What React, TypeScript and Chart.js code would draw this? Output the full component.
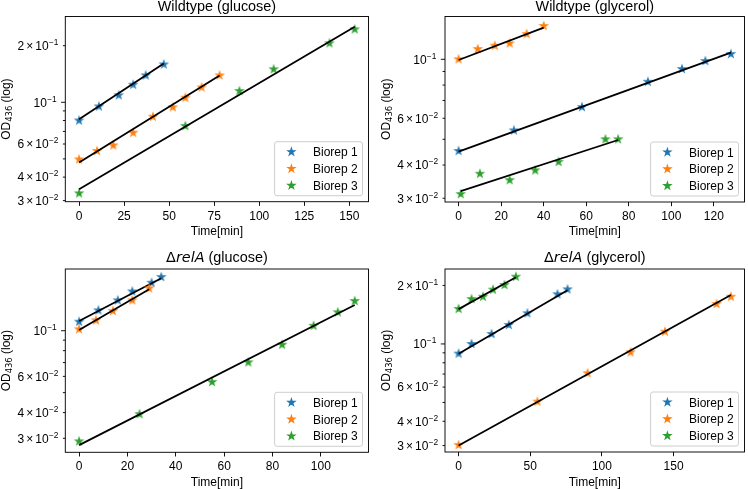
import React, { useEffect, useRef } from 'react';
import { Chart, registerables } from 'chart.js';
Chart.register(...registerables);

const SANS = "'Liberation Sans', Arial, sans-serif";
const MATH = "'DejaVu Sans', sans-serif";
const COLORS = ['#1f77b4', '#ff7f0e', '#2ca02c'];
const SERIES_LABELS = ['Biorep 1', 'Biorep 2', 'Biorep 3'];
const X_TITLE = 'Time[min]';
const Y_TITLE = ['OD', '436', ' (log)'];

// shared log-axis ticks and labels
const Y_TICKS = [0.03, 0.04, 0.05, 0.06, 0.07, 0.08, 0.09, 0.1, 0.2, 0.3];
const Y_TICK_LABELS = ['3×10^-2', '4×10^-2', '', '6×10^-2', '', '', '', '10^-1', '2×10^-1', '3×10^-1'];

// ---- Wildtype (glucose)
const wgTitle = 'Wildtype (glucose)';
const wgXTicks = [0, 25, 50, 75, 100, 125, 150];
const wgT1 = [0, 11, 22, 30, 37, 47];
const wgOD1 = [0.08, 0.095, 0.109, 0.124, 0.139, 0.159];
const wgT2 = [0, 10, 19, 30, 41, 52, 59, 68, 78];
const wgOD2 = [0.0497, 0.0551, 0.059, 0.0689, 0.0838, 0.0941, 0.1058, 0.12, 0.139];
const wgT3 = [0, 59, 89, 108, 139, 153];
const wgOD3 = [0.0328, 0.0748, 0.1148, 0.1498, 0.206, 0.2444];
const wgFitT1 = [0, 47];
const wgFitOD1 = [0.0812, 0.161];
const wgFitT2 = [0, 78];
const wgFitOD2 = [0.0478, 0.139];
const wgFitT3 = [0, 153];
const wgFitOD3 = [0.0345, 0.252];

// ---- Wildtype (glycerol)
const wyTitle = 'Wildtype (glycerol)';
const wyXTicks = [0, 20, 40, 60, 80, 100, 120];
const wyT1 = [0, 26, 58, 89, 105, 116, 128];
const wyOD1 = [0.0452, 0.054, 0.0661, 0.0823, 0.0919, 0.0985, 0.1047];
const wyT2 = [0, 9, 17, 24, 32, 40];
const wyOD2 = [0.1, 0.1093, 0.1125, 0.1148, 0.1245, 0.1335];
const wyT3 = [1, 10, 24, 36, 47, 69, 75];
const wyOD3 = [0.0311, 0.0371, 0.0351, 0.0382, 0.0411, 0.05, 0.05];
const wyFitT1 = [0, 128];
const wyFitOD1 = [0.0449, 0.1059];
const wyFitT2 = [0, 40];
const wyFitOD2 = [0.0994, 0.1315];
const wyFitT3 = [1, 75];
const wyFitOD3 = [0.0319, 0.0497];

// ---- ΔrelA (glucose)
const rgTitle = 'ΔrelA (glucose)';
const rgXTicks = [0, 20, 40, 60, 80, 100];
const rgT1 = [0, 8, 16, 22, 30, 34];
const rgOD1 = [0.1106, 0.1256, 0.1405, 0.1553, 0.171, 0.1824];
const rgT2 = [0, 7, 14, 22, 29];
const rgOD2 = [0.1016, 0.1123, 0.1246, 0.1405, 0.1607];
const rgT3 = [0, 25, 55, 70, 84, 97, 107, 114];
const rgOD3 = [0.029, 0.0393, 0.0563, 0.0702, 0.0855, 0.1057, 0.1229, 0.1394];
const rgFitT1 = [0, 34];
const rgFitOD1 = [0.1114, 0.1798];
const rgFitT2 = [0, 29];
const rgFitOD2 = [0.1008, 0.1589];
const rgFitT3 = [0, 114];
const rgFitOD3 = [0.0278, 0.1333];

// ---- ΔrelA (glycerol)
const ryTitle = 'ΔrelA (glycerol)';
const ryXTicks = [0, 50, 100, 150];
const ryT1 = [0, 9, 23, 35, 48, 69, 76];
const ryOD1 = [0.0892, 0.1, 0.1125, 0.1252, 0.1438, 0.1801, 0.191];
const ryT2 = [0, 55, 90, 120, 144, 180, 190];
const ryOD2 = [0.0302, 0.0505, 0.0707, 0.0906, 0.1157, 0.1606, 0.175];
const ryT3 = [0, 9, 17, 24, 32, 40];
const ryOD3 = [0.1514, 0.1703, 0.175, 0.1902, 0.201, 0.2218];
const ryFitT1 = [0, 76];
const ryFitOD1 = [0.089, 0.1888];
const ryFitT2 = [0, 190];
const ryFitOD2 = [0.03, 0.1786];
const ryFitT3 = [0, 40];
const ryFitOD3 = [0.151, 0.2203];

type Series = { t: number[]; od: number[]; fitT: number[]; fitOD: number[] };
type PanelDef = {
  box: { left: number; top: number; width: number; height: number };
  pad: { left: number; top: number; right: number };
  xAxisH: number;
  xTitlePad: number;
  titleGap: number;
  title: string;
  xMin: number; xMax: number; yMin: number; yMax: number;
  xTicks: number[];
  series: Series[];
};

const PANELS: PanelDef[] = [
  {
    box: { left: 0, top: 0, width: 374, height: 245 },
    pad: { left: 65.3, top: 16.5, right: 5.5 }, xAxisH: 43.3, xTitlePad: 7, titleGap: 5.6,
    title: wgTitle, xMin: -7.65, xMax: 160.65, yMin: 0.0296, yMax: 0.286, xTicks: wgXTicks,
    series: [
      { t: wgT1, od: wgOD1, fitT: wgFitT1, fitOD: wgFitOD1 },
      { t: wgT2, od: wgOD2, fitT: wgFitT2, fitOD: wgFitOD2 },
      { t: wgT3, od: wgOD3, fitT: wgFitT3, fitOD: wgFitOD3 },
    ],
  },
  {
    box: { left: 374, top: 0, width: 374, height: 245 },
    pad: { left: 71, top: 16.5, right: 3.5 }, xAxisH: 43, xTitlePad: 7, titleGap: 5.6,
    title: wyTitle, xMin: -6.4, xMax: 134.4, yMin: 0.02904, yMax: 0.1449, xTicks: wyXTicks,
    series: [
      { t: wyT1, od: wyOD1, fitT: wyFitT1, fitOD: wyFitOD1 },
      { t: wyT2, od: wyOD2, fitT: wyFitT2, fitOD: wyFitOD2 },
      { t: wyT3, od: wyOD3, fitT: wyFitT3, fitOD: wyFitOD3 },
    ],
  },
  {
    box: { left: 0, top: 245, width: 374, height: 244 },
    pad: { left: 65.3, top: 24, right: 5.5 }, xAxisH: 36.7, xTitlePad: 0, titleGap: 7.3,
    title: rgTitle, xMin: -5.7, xMax: 119.7, yMin: 0.02565, yMax: 0.1995, xTicks: rgXTicks,
    series: [
      { t: rgT1, od: rgOD1, fitT: rgFitT1, fitOD: rgFitOD1 },
      { t: rgT2, od: rgOD2, fitT: rgFitT2, fitOD: rgFitOD2 },
      { t: rgT3, od: rgOD3, fitT: rgFitT3, fitOD: rgFitOD3 },
    ],
  },
  {
    box: { left: 374, top: 245, width: 374, height: 244 },
    pad: { left: 71, top: 24, right: 3.5 }, xAxisH: 37, xTitlePad: 0, titleGap: 7.3,
    title: ryTitle, xMin: -9.5, xMax: 199.5, yMin: 0.0278, yMax: 0.243, xTicks: ryXTicks,
    series: [
      { t: ryT1, od: ryOD1, fitT: ryFitT1, fitOD: ryFitOD1 },
      { t: ryT2, od: ryOD2, fitT: ryFitT2, fitOD: ryFitOD2 },
      { t: ryT3, od: ryOD3, fitT: ryFitT3, fitOD: ryFitOD3 },
    ],
  },
];

const STAR_R = 3.6;

function starPath(ctx: CanvasRenderingContext2D, cx: number, cy: number, r: number) {
  ctx.beginPath();
  for (let k = 0; k < 10; k++) {
    const ang = -Math.PI / 2 + (k * Math.PI) / 5;
    const rr = k % 2 === 0 ? r : r * 0.381966;
    const x = cx + rr * Math.cos(ang);
    const y = cy + rr * Math.sin(ang);
    if (k === 0) ctx.moveTo(x, y);
    else ctx.lineTo(x, y);
  }
  ctx.closePath();
}

function drawStar(ctx: CanvasRenderingContext2D, cx: number, cy: number, color: string) {
  starPath(ctx, cx, cy, STAR_R);
  ctx.fillStyle = color;
  ctx.fill();
  ctx.lineWidth = 1.2;
  ctx.lineJoin = 'miter';
  ctx.strokeStyle = color;
  ctx.stroke();
}

function makeStarImage(color: string): HTMLCanvasElement {
  const c = document.createElement('canvas');
  c.width = 14;
  c.height = 14;
  const ctx = c.getContext('2d')!;
  drawStar(ctx, 7, 7, color);
  return c;
}

type Part = { text: string; font: string; dy: number; gap?: number };

function drawParts(ctx: CanvasRenderingContext2D, parts: Part[], x: number, y: number, align: 'left' | 'center' | 'right') {
  const widths = parts.map((p) => {
    ctx.font = p.font;
    return ctx.measureText(p.text).width + (p.gap || 0);
  });
  const total = widths.reduce((s, w) => s + w, 0);
  let cx = align === 'left' ? x : align === 'center' ? x - total / 2 : x - total;
  ctx.textAlign = 'left';
  ctx.textBaseline = 'alphabetic';
  parts.forEach((p, i) => {
    ctx.font = p.font;
    ctx.fillText(p.text, cx + (p.gap || 0) / 2, y + p.dy);
    cx += widths[i];
  });
}

function tickLabelParts(lab: string): Part[] {
  const [base, exp] = lab.split('^');
  const f = `12px ${SANS}`;
  const parts: Part[] = [];
  if (base.includes('×')) {
    const [m, ten] = base.split('×');
    parts.push({ text: m, font: f, dy: 0 });
    parts.push({ text: '×', font: f, dy: 0, gap: 4 });
    parts.push({ text: ten, font: f, dy: 0 });
  } else {
    parts.push({ text: base, font: f, dy: 0 });
  }
  parts.push({ text: exp.replace('-', '\u2212'), font: `8.4px ${SANS}`, dy: -5, gap: 0.6 });
  return parts;
}

function titleParts(title: string): Part[] {
  const f = `14.4px ${SANS}`;
  if (title.startsWith('Δ')) {
    const sp = title.indexOf(' ');
    return [
      { text: 'Δ', font: `14.4px ${MATH}`, dy: 0 },
      { text: title.slice(1, sp), font: `italic 14.4px ${MATH}`, dy: 0 },
      { text: title.slice(sp), font: f, dy: 0 },
    ];
  }
  return [{ text: title, font: f, dy: 0 }];
}

function decorPlugin(p: PanelDef) {
  return {
    id: 'decor',
    afterDraw(chart: any) {
      const ctx: CanvasRenderingContext2D = chart.ctx;
      const a = chart.chartArea;
      const ys = chart.scales.y;
      ctx.save();
      // spines
      ctx.strokeStyle = '#000';
      ctx.lineWidth = 0.93;
      ctx.strokeRect(a.left, a.top, a.right - a.left, a.bottom - a.top);
      // y ticks + labels
      ctx.fillStyle = '#000';
      Y_TICKS.forEach((v, i) => {
        if (v < p.yMin || v > p.yMax) return;
        const py = ys.getPixelForValue(v);
        const lg = Math.log10(v);
        const major = Math.abs(lg - Math.round(lg)) < 1e-9;
        const len = major ? 4.2 : 2.4;
        ctx.beginPath();
        ctx.moveTo(a.left - len, py);
        ctx.lineTo(a.left, py);
        ctx.stroke();
        const lab = Y_TICK_LABELS[i];
        if (lab) drawParts(ctx, tickLabelParts(lab), a.left - len - 4.1, py + 4.3, 'right');
      });
      // title
      drawParts(ctx, titleParts(p.title), (a.left + a.right) / 2, a.top - p.titleGap, 'center');
      // y label (rotated)
      ctx.save();
      ctx.translate(a.left - 55.5, (a.top + a.bottom) / 2);
      ctx.rotate(-Math.PI / 2);
      drawParts(
        ctx,
        [
          { text: Y_TITLE[0], font: `12px ${SANS}`, dy: 0 },
          { text: Y_TITLE[1], font: `8.4px ${MATH}`, dy: 2.6 },
          { text: Y_TITLE[2], font: `12px ${SANS}`, dy: 0 },
        ],
        0, 0, 'center'
      );
      ctx.restore();
      // legend
      ctx.font = `12px ${SANS}`;
      const tw = Math.max(...SERIES_LABELS.map((s) => ctx.measureText(s).width));
      const bw = 38.4 + tw + 4.8;
      const rowH = 10.8;
      const bh = 9.6 + 3 * rowH + 2 * 6;
      const bx = a.right - 6 - bw;
      const by = a.bottom - 6 - bh;
      ctx.beginPath();
      ctx.roundRect(bx, by, bw, bh, 2.4);
      ctx.fillStyle = 'rgba(255,255,255,0.8)';
      ctx.fill();
      ctx.strokeStyle = '#cacaca';
      ctx.lineWidth = 0.93;
      ctx.stroke();
      SERIES_LABELS.forEach((s, i) => {
        const cy = by + 4.8 + rowH / 2 + i * (rowH + 6);
        drawStar(ctx, bx + 16.8, cy, COLORS[i]);
        ctx.fillStyle = '#000';
        ctx.font = `12px ${SANS}`;
        ctx.textAlign = 'left';
        ctx.textBaseline = 'alphabetic';
        ctx.fillText(s, bx + 38.4, cy + 4.3);
      });
      ctx.restore();
    },
  };
}

function Panel({ p }: { p: PanelDef }) {
  const ref = useRef<HTMLCanvasElement>(null);
  useEffect(() => {
    if (!ref.current) return;
    const stars = COLORS.map((c) => makeStarImage(c));
    const datasets: any[] = [];
    p.series.forEach((s, i) => {
      datasets.push({
        label: SERIES_LABELS[i],
        data: s.t.map((x, j) => ({ x, y: s.od[j] })),
        showLine: false,
        pointStyle: stars[i],
        pointRadius: 4,
        borderColor: COLORS[i],
        backgroundColor: COLORS[i],
        order: 6 - 2 * i,
      });
      datasets.push({
        label: 'fit ' + SERIES_LABELS[i],
        data: s.fitT.map((x, j) => ({ x, y: s.fitOD[j] })),
        showLine: true,
        pointRadius: 0,
        borderColor: '#000',
        backgroundColor: '#000',
        borderWidth: 1.8,
        order: 5 - 2 * i,
      });
    });
    const chart = new Chart(ref.current, {
      type: 'scatter',
      data: { datasets },
      options: {
        animation: false,
        responsive: false,
        devicePixelRatio: 1,
        events: [],
        layout: { padding: { left: p.pad.left, top: p.pad.top, right: p.pad.right, bottom: 0 }, autoPadding: false } as any,
        plugins: { legend: { display: false }, tooltip: { enabled: false }, title: { display: false } },
        scales: {
          x: {
            type: 'linear',
            min: p.xMin,
            max: p.xMax,
            bounds: 'data',
            afterBuildTicks: (sc: any) => {
              sc.ticks = p.xTicks.map((v) => ({ value: v }));
            },
            afterFit: (sc: any) => {
              sc.height = p.xAxisH;
            },
            grid: { display: true, drawOnChartArea: false, drawTicks: true, tickLength: 4.2, color: '#000', lineWidth: 0.93 },
            border: { display: false },
            ticks: {
              font: { family: SANS, size: 12 },
              color: '#000',
              padding: 3.3,
              maxRotation: 0,
              autoSkip: false,
              callback: (v: any) => String(v),
            },
            title: {
              display: true,
              text: X_TITLE,
              color: '#000',
              font: { family: SANS, size: 12, lineHeight: 1 },
              padding: { top: 0, bottom: p.xTitlePad },
            },
          },
          y: {
            type: 'logarithmic',
            min: p.yMin,
            max: p.yMax,
            bounds: 'data',
            display: false,
          },
        } as any,
      },
      plugins: [decorPlugin(p)],
    });
    return () => chart.destroy();
  }, [p]);
  return (
    <canvas
      ref={ref}
      width={p.box.width}
      height={p.box.height}
      style={{ position: 'absolute', left: p.box.left, top: p.box.top, width: p.box.width, height: p.box.height }}
    />
  );
}

export default function App() {
  return (
    <div style={{ position: 'absolute', left: 0, top: 0, width: 748, height: 489, background: '#fff', overflow: 'hidden' }}>
      {PANELS.map((p, i) => (
        <Panel key={i} p={p} />
      ))}
    </div>
  );
}
